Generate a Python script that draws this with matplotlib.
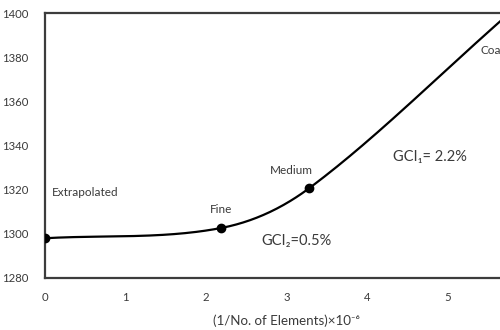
import numpy as np
import matplotlib
matplotlib.use("Agg")
import matplotlib.pyplot as plt

# Grid-convergence data: inverse element count vs. predicted value
labels = ["Extrapolated", "Fine", "Medium", "Coarse"]
inv_elements = [0.0, 2.18, 3.28, 5.75]
values = [1298.0, 1302.6, 1320.7, 1399.5]

x_ticks = [0, 1, 2, 3, 4, 5]
y_ticks = [1280, 1300, 1320, 1340, 1360, 1380, 1400]

plt.rcParams["font.family"] = ["Lato", "DejaVu Sans"]
text_color = "#3a3a3a"
spine_color = "#3c3c3c"


def smooth_curve(xs, ys, n=80):
    """Piecewise cubic Hermite through the points, slopes from neighbours."""
    xs = np.asarray(xs, float)
    ys = np.asarray(ys, float)
    k = len(xs)
    m = np.empty(k)
    m[0] = (ys[1] - ys[0]) / (xs[1] - xs[0])
    m[-1] = (ys[-1] - ys[-2]) / (xs[-1] - xs[-2])
    for i in range(1, k - 1):
        m[i] = (ys[i + 1] - ys[i - 1]) / (xs[i + 1] - xs[i - 1])
    px, py = [], []
    for i in range(k - 1):
        h = xs[i + 1] - xs[i]
        t = np.linspace(0, 1, n)
        h00 = 2 * t**3 - 3 * t**2 + 1
        h10 = t**3 - 2 * t**2 + t
        h01 = -2 * t**3 + 3 * t**2
        h11 = t**3 - t**2
        seg_y = h00 * ys[i] + h10 * h * m[i] + h01 * ys[i + 1] + h11 * h * m[i + 1]
        seg_x = xs[i] + t * h
        px.append(seg_x if i == 0 else seg_x[1:])
        py.append(seg_y if i == 0 else seg_y[1:])
    return np.concatenate(px), np.concatenate(py)


fig = plt.figure(figsize=(5.0, 3.3), dpi=100)
ax = fig.add_axes([0.09, 0.1576, 0.967, 0.803])

cx, cy = smooth_curve(inv_elements, values)
ax.plot(cx, cy, color="black", lw=1.6, zorder=3)
ax.plot(inv_elements, values, "o", color="black", ms=6, zorder=4)

ax.set_xlim(0, 6)
ax.set_ylim(1280, 1400)
ax.set_xticks(x_ticks)
ax.set_yticks(y_ticks)
ax.tick_params(length=0, labelsize=8.2, colors=text_color)
ax.tick_params(axis="y", pad=12)
ax.tick_params(axis="x", pad=10)

for side in ["left", "bottom", "top"]:
    ax.spines[side].set_color(spine_color)
    ax.spines[side].set_linewidth(1.6)
ax.spines["right"].set_visible(False)

ax.set_xlabel("(1/No. of Elements)×10⁻⁶", fontsize=9.6, color=text_color,
              labelpad=8)

label_kw = dict(fontsize=8.5, color=text_color)
ax.text(0.09, 1318.5, labels[0], ha="left", va="center", **label_kw)
ax.text(2.18, 1310.8, labels[1], ha="center", va="center", **label_kw)
ax.text(3.06, 1328.9, labels[2], ha="center", va="center", **label_kw)
ax.text(5.41, 1382.8, labels[3], ha="left", va="center", **label_kw)

ax.text(4.32, 1334.8, "GCI₁= 2.2%", ha="left", va="center",
        fontsize=10.5, color=text_color)
ax.text(2.69, 1296.7, "GCI₂=0.5%", ha="left", va="center",
        fontsize=10.5, color=text_color)

fig.savefig("out.png", dpi=100)
